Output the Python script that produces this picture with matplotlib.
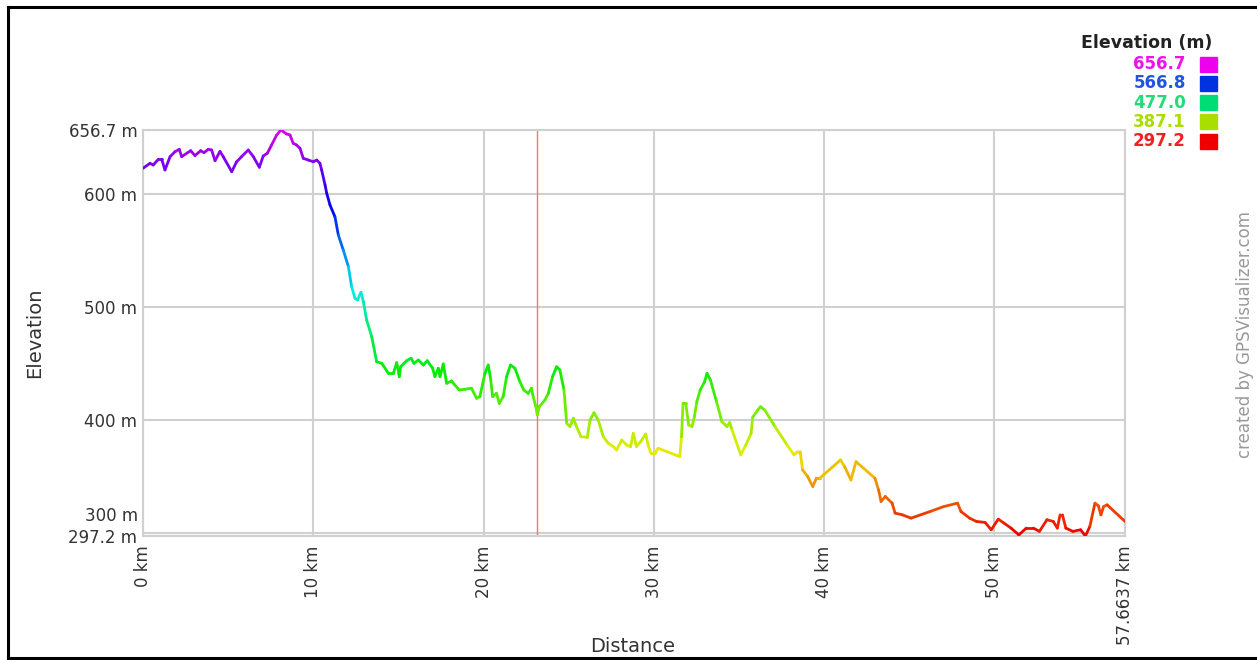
import matplotlib
matplotlib.use("Agg")
import matplotlib.pyplot as plt
import numpy as np
from matplotlib.collections import LineCollection
from matplotlib.colors import ListedColormap, Normalize
from matplotlib.lines import Line2D

plt.rcParams['font.family'] = ['DejaVu Sans']

# profile data
dist_km = [0.0, 0.41, 0.6, 0.9, 1.1, 1.29, 1.59, 1.88, 2.13, 2.27, 2.80, 3.05, 3.39, 3.58,
           3.83, 4.03, 4.23, 4.52, 4.71, 5.21, 5.50, 5.79, 6.18, 6.48, 6.83, 7.06, 7.30,
           7.55, 7.85, 8.10, 8.43, 8.63, 8.82, 9.02, 9.22, 9.41, 9.71, 10.0, 10.2, 10.39,
           10.49, 10.69, 10.79, 10.98, 11.27, 11.47, 11.76, 12.06, 12.25, 12.45, 12.6, 12.8,
           12.94, 13.13, 13.43, 13.72, 14.02, 14.41, 14.70, 14.90, 15.05, 15.13, 15.48,
           15.74, 15.91, 16.17, 16.46, 16.69, 17.01, 17.14, 17.34, 17.44, 17.63, 17.83,
           18.12, 18.31, 18.57, 18.90, 19.29, 19.59, 19.78, 20.08, 20.27, 20.41, 20.53,
           20.76, 20.92, 21.15, 21.35, 21.58, 21.84, 22.13, 22.36, 22.62, 22.81, 22.91,
           23.07, 23.15, 23.27, 23.60, 23.80, 24.05, 24.29, 24.48, 24.72, 24.88, 25.07,
           25.27, 25.46, 25.72, 26.09, 26.25, 26.48, 26.73, 27.03, 27.32, 27.62, 27.81,
           28.11, 28.40, 28.63, 28.79, 28.98, 29.22, 29.52, 29.66, 29.82, 30.06, 30.25,
           31.52, 31.62, 31.71, 31.87, 32.04, 32.24, 32.38, 32.52, 32.72, 32.98, 33.12,
           33.32, 33.68, 33.99, 34.29, 34.45, 34.59, 35.10, 35.40, 35.71, 35.80, 36.10,
           36.26, 36.51, 37.11, 37.82, 38.23, 38.43, 38.59, 38.73, 39.03, 39.33, 39.54,
           39.74, 40.96, 41.20, 41.57, 41.87, 42.98, 43.19, 43.34, 43.59, 43.99, 44.16,
           44.60, 45.10, 46.22, 47.03, 47.83, 48.03, 48.54, 48.94, 49.45, 49.81, 50.22,
           50.56, 50.97, 51.43, 51.87, 52.28, 52.64, 53.08, 53.45, 53.69, 53.85, 53.99,
           54.19, 54.60, 55.06, 55.34, 55.60, 55.90, 56.10, 56.25, 56.41, 56.61, 57.6637]
elev_m = [622.8, 627.2, 625.7, 630.7, 630.7, 621.3, 633.1, 637.5, 639.6, 633.1, 638.4, 634.0,
          638.4, 636.6, 639.6, 639.0, 629.5, 637.8, 633.1, 619.8, 628.6, 633.1, 639.0, 633.1,
          623.7, 633.7, 636.1, 643.4, 652.3, 656.7, 653.2, 652.3, 644.9, 643.4, 640.5, 631.6,
          630.1, 628.6, 630.1, 627.2, 621.3, 608.0, 600.6, 590.3, 579.9, 563.7, 550.4, 535.7,
          517.9, 507.7, 506.2, 513.0, 504.7, 488.5, 473.7, 451.5, 450.1, 441.2, 441.2, 450.7,
          438.3, 447.1, 452.4, 454.6, 450.1, 453.0, 448.6, 452.4, 445.7, 438.3, 445.7, 438.3,
          449.5, 432.4, 434.4, 430.9, 426.5, 427.1, 428.0, 419.1, 420.6, 441.2, 448.6, 436.8,
          420.6, 423.5, 414.6, 420.6, 438.3, 448.6, 445.7, 433.8, 426.5, 423.5, 428.0, 420.6,
          411.7, 404.3, 411.7, 417.6, 423.5, 438.3, 447.1, 444.2, 426.5, 397.0, 394.1, 401.5,
          394.1, 385.1, 384.6, 399.9, 406.3, 399.9, 385.1, 379.3, 376.3, 373.4, 382.2, 377.8,
          376.3, 388.1, 376.3, 380.7, 387.5, 377.8, 370.4, 370.4, 374.9, 367.5, 385.1, 414.6,
          414.6, 395.5, 394.1, 402.9, 416.1, 426.5, 433.8, 441.2, 435.3, 416.1, 398.5, 394.1,
          397.6, 391.1, 369.0, 377.8, 388.1, 402.3, 408.8, 411.7, 408.8, 394.1, 377.8, 369.0,
          371.9, 371.9, 355.8, 349.8, 341.0, 348.4, 348.4, 364.5, 358.6, 346.8, 363.0, 348.4,
          338.1, 327.8, 332.2, 326.3, 317.5, 315.9, 313.0, 318.9, 323.3, 326.3, 318.9, 313.0,
          310.1, 309.2, 302.7, 312.1, 308.6, 304.2, 298.2, 304.2, 304.2, 301.3, 311.6, 310.1,
          304.2, 315.9, 315.9, 304.2, 301.3, 302.7, 297.2, 305.7, 326.3, 323.9, 315.9, 323.3,
          324.8, 310.1]

elev_min, elev_max = 297.2, 656.7
dist_max = 57.6637
marker_km = 23.14
legend_values = ['656.7', '566.8', '477.0', '387.1', '297.2']
legend_text_colors = ['#ee11ee', '#2255dd', '#22dd77', '#aadd00', '#ee2222']
legend_box_colors = ['#ee00ee', '#0033dd', '#00dd77', '#aadd00', '#ee0000']

fig = plt.figure(figsize=(12.57, 6.6), dpi=100)
ax = fig.add_axes([143 / 1257, 1 - 536 / 660, 982 / 1257, 406 / 660])

# elevation coloured line (hue red -> magenta)
cmap = ListedColormap(plt.cm.hsv(np.linspace(0, 0.833, 256))[:, :3] * 0.93)
x = np.array(dist_km)
y = np.array(elev_m)
pts = np.column_stack([x, y]).reshape(-1, 1, 2)
segs = np.concatenate([pts[:-1], pts[1:]], axis=1)
lc = LineCollection(segs, cmap=cmap, norm=Normalize(elev_min, elev_max),
                    linewidths=2.0, capstyle='round', joinstyle='round', zorder=3)
lc.set_array((y[:-1] + y[1:]) / 2)
ax.add_collection(lc)

ax.axvline(marker_km, color='#ff7070', lw=1.0, zorder=2)

ax.set_xlim(0, dist_max)
ax.set_ylim(elev_min, elev_max)

xt = [0, 10, 20, 30, 40, 50, dist_max]
ax.set_xticks(xt)
ax.set_xticklabels(['0 km', '10 km', '20 km', '30 km', '40 km', '50 km', '57.6637 km'],
                   rotation=90, va='top')
yt = [elev_min, 300, 400, 500, 600, elev_max]
ax.set_yticks(yt)
ax.set_yticklabels(['297.2 m', '', '400 m', '500 m', '600 m', '656.7 m'])
ax.tick_params(length=0, labelsize=12, labelcolor='#333333', pad=4)
ax.tick_params(axis='x', pad=7)
# the 300 m label sits just above its line so it clears the 297.2 m label
ax.text(-0.005, 306.5, '300 m', transform=ax.get_yaxis_transform(), ha='right',
        va='bottom', fontsize=12, color='#333333')
ax.grid(True, color='#d0d0d0', lw=1.5, zorder=1)
for s in ax.spines.values():
    s.set_color('#d0d0d0')
    s.set_linewidth(1.5)

fig.text(35 / 1257, 1 - 333 / 660, 'Elevation', rotation=90, ha='center', va='center',
         fontsize=14, color='#333333')
fig.text(633 / 1257, 1 - 647 / 660, 'Distance', ha='center', va='center',
         fontsize=14, color='#333333')
fig.text(1245 / 1257, 1 - 335 / 660, 'created by GPSVisualizer.com', rotation=90,
         ha='center', va='center', fontsize=12, color='#999999')

# legend
fig.text(1212 / 1257, 1 - 43 / 660, 'Elevation (m)', ha='right', va='center',
         fontsize=12.5, fontweight='bold', color='#222222')
for i, (v, tc, bc) in enumerate(zip(legend_values, legend_text_colors, legend_box_colors)):
    yc = 64 + i * 19.3
    fig.text(1186 / 1257, 1 - yc / 660, v, ha='right', va='center', fontsize=12,
             fontweight='bold', color=tc)
    fig.patches.append(plt.Rectangle((1200 / 1257, 1 - (yc + 7.5) / 660), 17 / 1257, 15 / 660,
                                     transform=fig.transFigure, color=bc, figure=fig))

# frame round the picture
for xs, ys in [([8, 1257], [7, 7]), ([8, 8], [7, 658]), ([8, 1257], [658, 658])]:
    fig.add_artist(Line2D([a / 1257 for a in xs], [1 - b / 660 for b in ys],
                          color='black', lw=2.2))

fig.savefig('out.png', dpi=100, facecolor='white')
